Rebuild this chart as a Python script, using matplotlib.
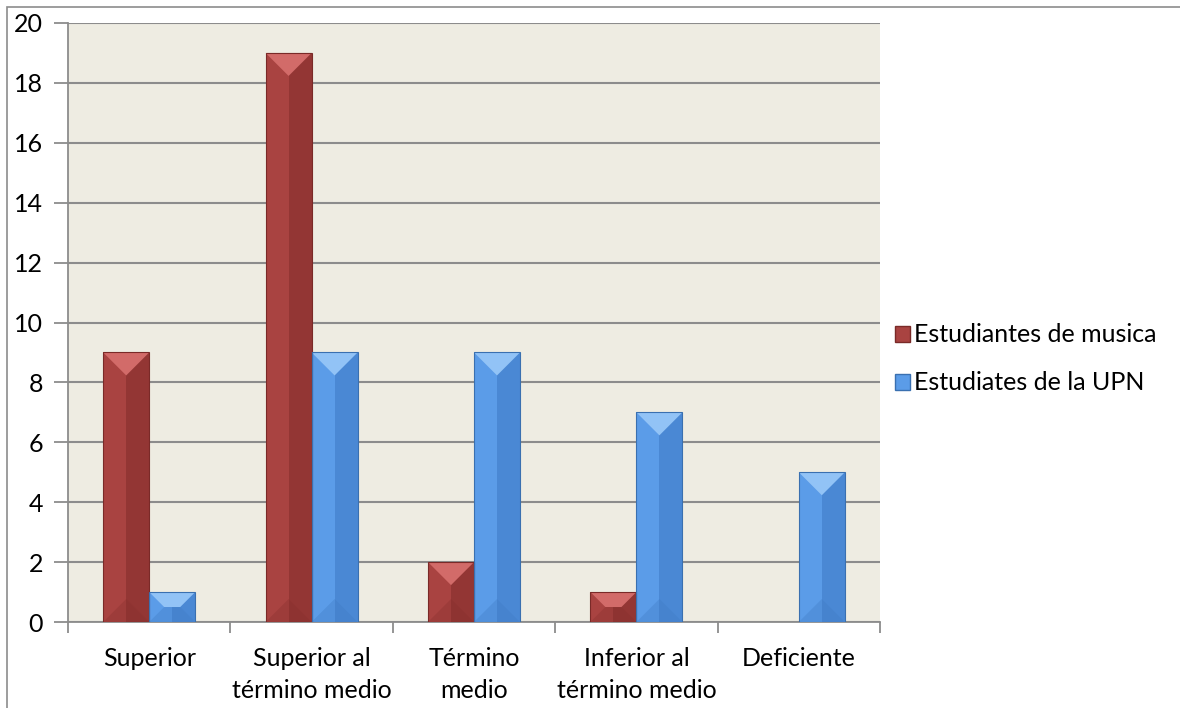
import matplotlib.pyplot as plt
from matplotlib.patches import Polygon, Rectangle

categorias = ["Superior", "Superior al\ntérmino medio", "Término\nmedio",
              "Inferior al\ntérmino medio", "Deficiente"]
musica = [9, 19, 2, 1, 0]
upn = [1, 9, 9, 7, 5]
series = ["Estudiantes de musica", "Estudiates de la UPN"]

# colores de cada serie: izquierda, derecha, bisel superior, bisel inferior
rojo = {"left": "#A94341", "right": "#933634", "top": "#D26B69", "bottom": "#872F2D",
        "edge": "#7A2A28"}
azul = {"left": "#5B9CE8", "right": "#4A88D4", "top": "#92C3F6", "bottom": "#3F7BC4",
        "edge": "#3A70B0"}

plt.rcParams["font.family"] = ["Lato", "DejaVu Sans"]

fig = plt.figure(figsize=(11.8, 7.08), dpi=100)
ax = fig.add_axes([68 / 1180, 86 / 708, 812 / 1180, 599 / 708])
ax.set_facecolor("#EEECE2")
ax.set_xlim(0, 5)
ax.set_ylim(0, 20)

# escala en pixeles para los biseles
px_x = 812 / 5
px_y = 599 / 20
ancho = 46 / px_x


def barra(x0, h, c):
    if h <= 0:
        return
    w = ancho
    ax.add_patch(Rectangle((x0, 0), w / 2, h, facecolor=c["left"], lw=0, zorder=3))
    ax.add_patch(Rectangle((x0 + w / 2, 0), w / 2, h, facecolor=c["right"], lw=0, zorder=3))
    d_px = min(23, h * px_y / 2)
    dy = d_px / px_y
    dx = min(d_px / px_x, w / 2)
    ax.add_patch(Polygon([(x0, h), (x0 + w, h), (x0 + w - dx, h - dy), (x0 + dx, h - dy)],
                         facecolor=c["top"], lw=0, zorder=4))
    ax.add_patch(Polygon([(x0, 0), (x0 + w, 0), (x0 + w - dx, dy), (x0 + dx, dy)],
                         facecolor=c["bottom"], lw=0, alpha=0.35, zorder=4))
    ax.add_patch(Rectangle((x0, 0), w, h, facecolor="none", edgecolor=c["edge"],
                           lw=0.8, zorder=5))


for i in range(len(categorias)):
    centro = i + 0.5
    barra(centro - ancho, musica[i], rojo)
    barra(centro, upn[i], azul)

ax.set_yticks(range(0, 21, 2))
ax.grid(axis="y", color="#8C8C8C", lw=1.5, zorder=1)
ax.set_axisbelow(True)
ax.set_xticks([i + 0.5 for i in range(5)])
ax.set_xticklabels(categorias, fontsize=18, linespacing=1.45)
ax.set_xticks(range(6), minor=True)
ax.tick_params(axis="x", which="major", length=0, pad=18)
ax.tick_params(axis="x", which="minor", length=8, color="#8C8C8C", width=1.3)
ax.tick_params(axis="y", length=10, color="#8C8C8C", width=1.3, labelsize=18, pad=8)
for lado in ["top", "right"]:
    ax.spines[lado].set_visible(False)
for lado in ["left", "bottom"]:
    ax.spines[lado].set_color("#8C8C8C")
    ax.spines[lado].set_linewidth(1.3)

# marco exterior del grafico
fig.patches.append(Rectangle((7 / 1180, -0.1), 1.2, (701 / 708) + 0.1,
                             transform=fig.transFigure, fill=False,
                             edgecolor="#8C8C8C", lw=1.2))

manijas = [Rectangle((0, 0), 1, 1, facecolor=rojo["left"], edgecolor=rojo["edge"]),
           Rectangle((0, 0), 1, 1, facecolor=azul["left"], edgecolor=azul["edge"])]
fig.legend(manijas, series, loc="center left", bbox_to_anchor=(872 / 1180, 1 - 359 / 708),
           frameon=False, fontsize=18, handlelength=0.6, handleheight=0.6,
           handletextpad=0.2, labelspacing=1.0)

fig.savefig("out.png", dpi=100)
